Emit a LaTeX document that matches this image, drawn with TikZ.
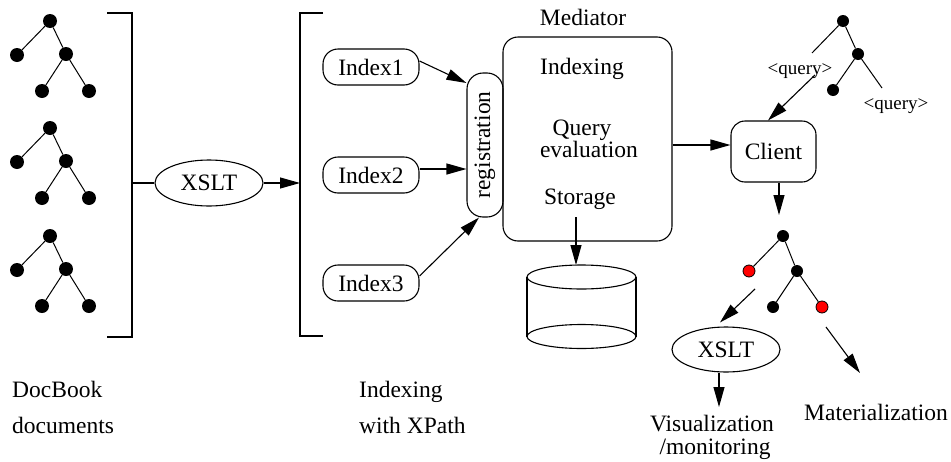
\documentclass[tikz,border=0pt]{standalone}
\usepackage{fontspec}
\setmainfont{Liberation Serif}
\usetikzlibrary{arrows.meta,shapes.geometric}
\begin{document}
\begin{tikzpicture}[x=1pt,y=-1pt,
  every node/.style={font=\fontsize{23.5}{26}\selectfont},
  ln/.style={line width=1.1pt},
  edge/.style={line width=1pt},
  arr/.style={ln,-{Triangle[length=20pt,width=11pt]}},
  bigdot/.style={circle,fill=black,inner sep=0,minimum size=14pt},
  dot/.style={circle,fill=black,inner sep=0,minimum size=12pt},
  reddot/.style={circle,fill=red,draw=black,line width=0.8pt,inner sep=0,minimum size=12pt},
  pill/.style={draw,ln,rounded corners=15pt,minimum width=96pt,minimum height=36pt,inner sep=0},
  oval/.style={draw,ln,ellipse,minimum width=108pt,minimum height=46pt,inner sep=0},
  lbl/.style={anchor=base,inner sep=0},
  qlbl/.style={anchor=base,inner sep=0,font=\fontsize{19}{22}\selectfont}
]
\useasboundingbox (0,0) rectangle (951,461);

% left document trees
\foreach \k/\dy in {a/0,b/107,c/215}{
  \node[bigdot] (\k r)  at (50,21+\dy) {};
  \node[bigdot] (\k l)  at (17,55+\dy) {};
  \node[bigdot] (\k m)  at (66,54+\dy) {};
  \node[bigdot] (\k ml) at (42,91+\dy) {};
  \node[bigdot] (\k mr) at (89,91+\dy) {};
  \draw[edge] (\k r) -- (\k l);
  \draw[edge] (\k r) -- (\k m);
  \draw[edge] (\k m) -- (\k ml);
  \draw[edge] (\k m) -- (\k mr);
}

% bracket 1
\coordinate (br1mid) at (132,183);
\draw[ln] (107,13) -- (132,13) -- (132,337) -- (107,337);

% XSLT 1
\node[oval] (x1) at (209,183) {XSLT};
\coordinate (br2mid) at (300,183);
\draw[ln] (br1mid) -- (x1);
\draw[arr] (x1) -- (br2mid);

% bracket 2
\draw[ln] (323,13) -- (300,13) -- (300,336) -- (323,336);

% index boxes
\node[pill] (i1) at (371,67) {Index1};
\node[pill] (i2) at (371,175) {Index2};
\node[pill] (i3) at (371,283) {Index3};

% registration
\node[draw,ln,rounded corners=16pt,minimum width=36pt,minimum height=144pt,inner sep=0] (reg) at (485,145) {\rotatebox{90}{registration}};

\draw[arr] ([yshift=6pt]i1.east) -- ([yshift=62pt]reg.west);
\draw[arr] ([yshift=6pt]i2.east) -- ([yshift=6pt]i2.east -| reg.west);
\draw[arr] ([yshift=7pt]i3.east) -- ([xshift=-6pt]reg.south);

% mediator
\node[draw,ln,rounded corners=15pt,minimum width=169pt,minimum height=204pt] (med) at (587.5,139) {};
\node[lbl] (medlbl) at (583,25) {Mediator};
\node[lbl] (tidx) at (582,74) {Indexing};
\node[lbl] (tq) at (582,135) {Query};
\node[lbl] (tev) at (589,157) {evaluation};
\node[lbl] (tst) at (580,204) {Storage};

% storage cylinder
\coordinate (stfrom) at (576,217);
\coordinate (cyltop) at (576,265);
\draw[arr] (stfrom) -- (cyltop);
\draw[ln] (527,277) -- (527,336.5);
\draw[ln] (636,277) -- (636,336.5);
\draw[ln] (581.5,277) ellipse [x radius=54.5pt, y radius=12pt];
\draw[ln] (581.5,336.5) ellipse [x radius=54.5pt, y radius=12pt];

% client
\node[draw,ln,rounded corners=14pt,minimum width=85pt,minimum height=61pt,inner sep=0] (client) at (773.5,151.5) {Client};
\draw[arr] ([yshift=-6pt]med.east) -- ([yshift=6.5pt]client.west);

% query tree (top right)
\node[dot] (qr) at (843,21) {};
\node[dot] (qm) at (858,54) {};
\node[dot] (qml) at (833,90) {};
\coordinate (ql) at (812,53);
\coordinate (qmr) at (882,88);
\draw[edge] (qr) -- (ql);
\draw[edge] (qr) -- (qm);
\draw[edge] (qm) -- (qml);
\draw[edge] (qm) -- (qmr);
\node[qlbl] (q1) at (800,74) {<query>};
\node[qlbl] (q2) at (896,109) {<query>};
\coordinate (qfrom) at (815,75);
\draw[arr] (qfrom) -- ([xshift=-5.5pt]client.north);

% client down to result tree
\coordinate (cdown) at (779,215);
\draw[arr] ([xshift=5.5pt]client.south) -- (cdown);

% result tree
\node[dot] (rr) at (783,236) {};
\node[reddot] (rl) at (749,271) {};
\node[dot] (rm) at (797,271) {};
\node[dot] (rml) at (773,307) {};
\node[reddot] (rmr) at (822,307) {};
\draw[edge] (rr) -- (rl);
\draw[edge] (rr) -- (rm);
\draw[edge] (rm) -- (rml);
\draw[edge] (rm) -- (rmr);

% XSLT 2
\node[oval,minimum height=45pt] (x2) at (726,349.5) {XSLT};
\coordinate (rlfrom) at (755,289);
\draw[arr] (rlfrom) -- ([xshift=-6pt,yshift=4pt]x2.north);
\coordinate (visto) at (719,407);
\draw[arr] ([xshift=-7pt]x2.south) -- (visto);
\node[lbl] (vis1) at (712,431) {Visualization};
\node[lbl] (vis2) at (715,454) {/monitoring};

\coordinate (matfrom) at (826,327);
\coordinate (matto) at (860,373);
\draw[arr] (matfrom) -- (matto);
\node[lbl] (mat) at (876,420) {Materialization};

% bottom captions
\node[lbl,anchor=base west] (db1) at (12,397) {DocBook};
\node[lbl,anchor=base west] (db2) at (12,433) {documents};
\node[lbl,anchor=base west] (ix1) at (359,397) {Indexing};
\node[lbl,anchor=base west] (ix2) at (359,433) {with XPath};
\end{tikzpicture}
\end{document}
